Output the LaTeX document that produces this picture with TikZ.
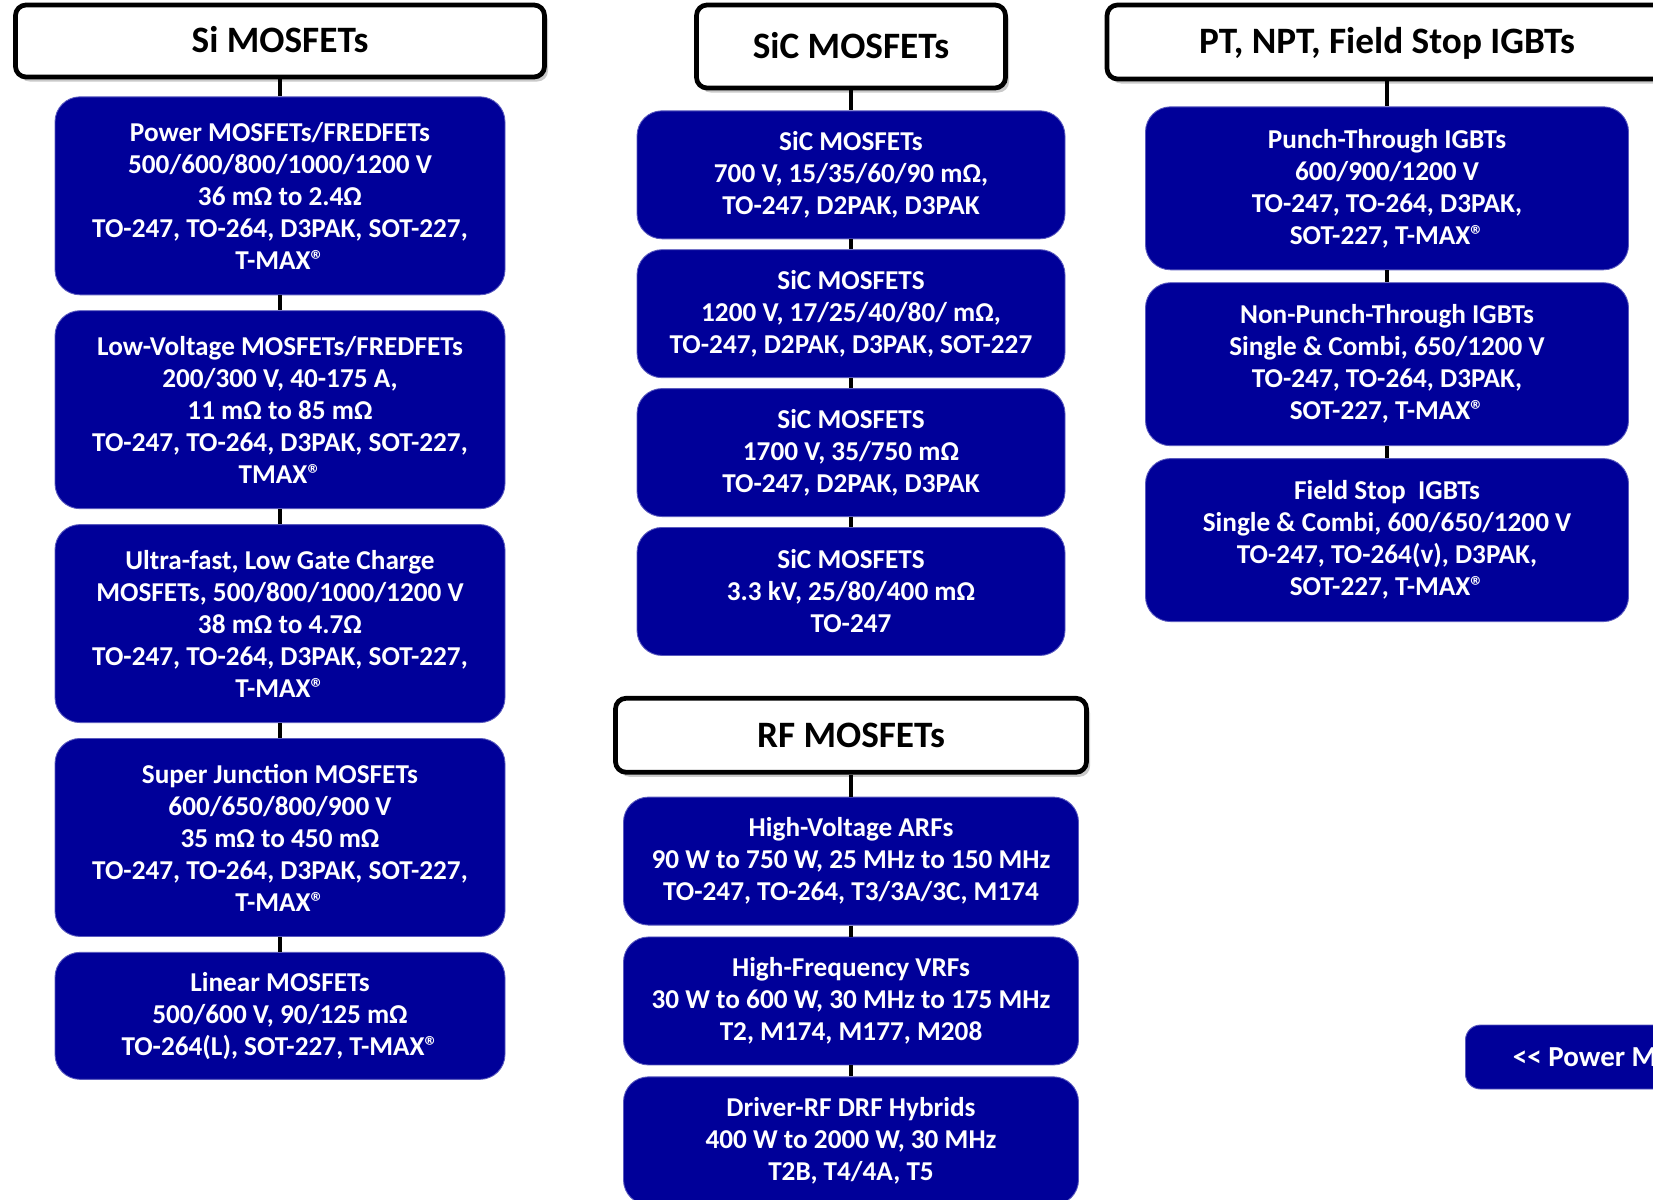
\documentclass[tikz,border=0pt]{standalone}
\usepackage{fontspec}
\setmainfont{Carlito}
\usepackage{tikz}
\usetikzlibrary{positioning,shadows}
\definecolor{devblue}{RGB}{0,0,153}
\definecolor{devedge}{RGB}{90,90,190}
\tikzset{
  famhdr/.style={draw=black, line width=2.7pt, rounded corners=6pt, fill=white,
                 font=\fontsize{21.2}{24}\selectfont\bfseries, inner sep=0pt,
                 text height=13.6pt, text depth=0pt,
                 drop shadow={shadow xshift=0.07cm, shadow yshift=-0.09cm, opacity=0.35, fill=black!60}},
  devbox/.style={draw=devedge, line width=0.5pt, rounded corners=0.5cm, fill=devblue,
                 text=white, align=center, inner sep=0pt,
                 font=\fontsize{15.5}{18.2}\selectfont\bfseries},
  navbtn/.style={draw=devedge, line width=0.5pt, rounded corners=0.3cm, fill=devblue,
                 text=white, font=\fontsize{16.5}{18}\selectfont\bfseries},
  link/.style={line width=2.8pt, black},
}
\newcommand{\tmax}{T-MAX®}

\begin{document}
\begin{tikzpicture}
  \useasboundingbox (0,0) rectangle (33.06,-23.98);
  \clip (0,0) rectangle (33.06,-23.98);
  % Si MOSFET column
  \node[famhdr, minimum width=10.58cm, minimum height=1.44cm] (si) at (5.6,-0.82) {Si MOSFETs};
  \node[devbox, minimum width=9cm, minimum height=3.96cm, below=0.34cm of si] (si1)
    {Power MOSFETs/FREDFETs\\500/600/800/1000/1200 V\\36 mΩ to 2.4Ω\\TO-247, TO-264, D3PAK, SOT-227,\\\tmax};
  \node[devbox, minimum width=9cm, minimum height=3.96cm, below=0.3cm of si1] (si2)
    {Low-Voltage MOSFETs/FREDFETs\\200/300 V, 40-175 A,\\11 mΩ to 85 mΩ\\TO-247, TO-264, D3PAK, SOT-227,\\TMAX®};
  \node[devbox, minimum width=9cm, minimum height=3.96cm, below=0.3cm of si2] (si3)
    {Ultra-fast, Low Gate Charge\\MOSFETs, 500/800/1000/1200 V\\38 mΩ to 4.7Ω\\TO-247, TO-264, D3PAK, SOT-227,\\\tmax};
  \node[devbox, minimum width=9cm, minimum height=3.96cm, below=0.3cm of si3] (si4)
    {Super Junction MOSFETs\\600/650/800/900 V\\35 mΩ to 450 mΩ\\TO-247, TO-264, D3PAK, SOT-227,\\\tmax};
  \node[devbox, minimum width=9cm, minimum height=2.54cm, below=0.3cm of si4] (si5)
    {Linear MOSFETs\\500/600 V, 90/125 mΩ\\TO-264(L), SOT-227, \tmax};
  % SiC MOSFET column
  \node[famhdr, minimum width=6.18cm, minimum height=1.66cm] (sic) at (17.02,-0.93) {SiC MOSFETs};
  \node[devbox, minimum width=8.56cm, minimum height=2.56cm, below=0.4cm of sic] (sic1)
    {SiC MOSFETs\\700 V, 15/35/60/90 mΩ,\\TO-247, D2PAK, D3PAK};
  \node[devbox, minimum width=8.56cm, minimum height=2.56cm, below=0.2cm of sic1] (sic2)
    {SiC MOSFETS\\1200 V, 17/25/40/80/ mΩ,\\TO-247, D2PAK, D3PAK, SOT-227};
  \node[devbox, minimum width=8.56cm, minimum height=2.56cm, below=0.2cm of sic2] (sic3)
    {SiC MOSFETS\\1700 V, 35/750 mΩ\\TO-247, D2PAK, D3PAK};
  \node[devbox, minimum width=8.56cm, minimum height=2.56cm, below=0.2cm of sic3] (sic4)
    {SiC MOSFETS\\3.3 kV, 25/80/400 mΩ\\TO-247};
  % RF MOSFET column
  \node[famhdr, minimum width=9.42cm, minimum height=1.48cm, below=0.8cm of sic4] (rf) {RF MOSFETs};
  \node[devbox, minimum width=9.1cm, minimum height=2.56cm, below=0.44cm of rf] (rf1)
    {High-Voltage ARFs\\90 W to 750 W, 25 MHz to 150 MHz\\TO-247, TO-264, T3/3A/3C, M174};
  \node[devbox, minimum width=9.1cm, minimum height=2.56cm, below=0.22cm of rf1] (rf2)
    {High-Frequency VRFs\\30 W to 600 W, 30 MHz to 175 MHz\\T2, M174, M177, M208};
  \node[devbox, minimum width=9.1cm, minimum height=2.56cm, below=0.22cm of rf2] (rf3)
    {Driver-RF DRF Hybrids\\400 W to 2000 W, 30 MHz\\T2B, T4/4A, T5};
  % IGBT column
  \node[famhdr, minimum width=11.2cm, minimum height=1.48cm] (igbt) at (27.74,-0.84) {PT, NPT, Field Stop IGBTs};
  \node[devbox, minimum width=9.66cm, minimum height=3.26cm, below=0.5cm of igbt] (igbt1)
    {Punch-Through IGBTs\\600/900/1200 V\\TO-247, TO-264, D3PAK,\\SOT-227, \tmax};
  \node[devbox, minimum width=9.66cm, minimum height=3.26cm, below=0.24cm of igbt1] (igbt2)
    {Non-Punch-Through IGBTs\\Single \& Combi, 650/1200 V\\TO-247, TO-264, D3PAK,\\SOT-227, \tmax};
  \node[devbox, minimum width=9.66cm, minimum height=3.26cm, below=0.24cm of igbt2] (igbt3)
    {Field Stop~ IGBTs\\Single \& Combi, 600/650/1200 V\\TO-247, TO-264(v), D3PAK,\\SOT-227, \tmax};
  % back link
  \node[navbtn, anchor=west, minimum height=1.28cm, inner xsep=0.95cm] (back) at (29.3,-21.14)
    {<\kern0pt< Power M};
  % connectors
  \draw[link] (si) -- (si1); \draw[link] (si1) -- (si2); \draw[link] (si2) -- (si3);
  \draw[link] (si3) -- (si4); \draw[link] (si4) -- (si5);
  \draw[link] (sic) -- (sic1); \draw[link] (sic1) -- (sic2);
  \draw[link] (sic2) -- (sic3); \draw[link] (sic3) -- (sic4);
  \draw[link] (rf) -- (rf1); \draw[link] (rf1) -- (rf2); \draw[link] (rf2) -- (rf3);
  \draw[link] (igbt) -- (igbt1); \draw[link] (igbt1) -- (igbt2); \draw[link] (igbt2) -- (igbt3);
\end{tikzpicture}
\end{document}
